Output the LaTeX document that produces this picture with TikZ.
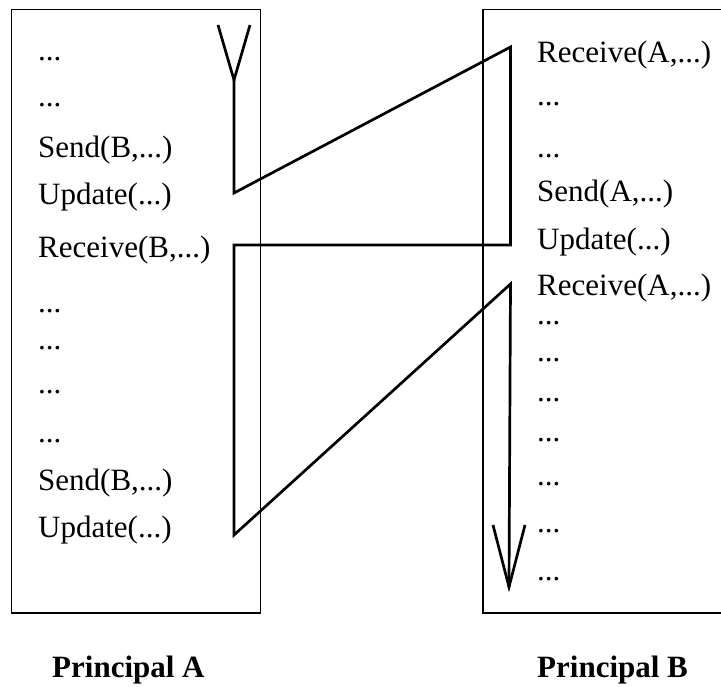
\documentclass[tikz,border=0pt]{standalone}
\usepackage{fontspec}
\setmainfont{Liberation Serif}
\begin{document}
\begin{tikzpicture}[x=1pt,y=-1pt,
  txt/.style={anchor=base west,inner sep=0pt,font=\fontsize{31}{36}\selectfont},
  lbl/.style={anchor=base west,inner sep=0pt,font=\fontsize{31}{36}\selectfont\bfseries},
  frame/.style={line width=1.3pt},
  flow/.style={line width=2.7pt,line join=miter}]
\useasboundingbox (0,0) rectangle (721,687);

% principal boxes (the right one runs off the edge)
\draw[frame] (11.5,9.5) rectangle (260.5,613);
\draw[frame] (721,9.5) -- (483,9.5) -- (483,613) -- (721,613);

% Principal A steps
\node[txt] (a1)  at (38,61)  {...};
\node[txt] (a2)  at (38,107) {...};
\node[txt] (a3)  at (38,158) {Send(B,...)};
\node[txt] (a4)  at (38,205) {Update(...)};
\node[txt] (a5)  at (38,258) {Receive(B,...)};
\node[txt] (a6)  at (38,313) {...};
\node[txt] (a7)  at (38,350) {...};
\node[txt] (a8)  at (38,393) {...};
\node[txt] (a9)  at (38,442) {...};
\node[txt] (a10) at (38,490) {Send(B,...)};
\node[txt] (a11) at (38,537) {Update(...)};

% Principal B steps
\node[txt] (b1)  at (537,63)  {Receive(A,...)};
\node[txt] (b2)  at (537,106) {...};
\node[txt] (b3)  at (537,158) {...};
\node[txt] (b4)  at (537,202) {Send(A,...)};
\node[txt] (b5)  at (537,250) {Update(...)};
\node[txt] (b6)  at (537,296) {Receive(A,...)};
\node[txt] (b7)  at (537,325) {...};
\node[txt] (b8)  at (537,362) {...};
\node[txt] (b9)  at (537,402) {...};
\node[txt] (b10) at (537,441) {...};
\node[txt] (b11) at (537,485) {...};
\node[txt] (b12) at (537,532) {...};
\node[txt] (b13) at (537,580) {...};

% captions
\node[lbl] (capA) at (52,677) {Principal A};
\node[lbl] (capB) at (537,677) {Principal B};

% control flow between the two principals
\coordinate (tailL) at (218,25);
\coordinate (tailR) at (250,25);
\coordinate (start) at (234,80);
\coordinate (p1) at (234,193);
\coordinate (p2) at (510.5,47);
\coordinate (p3) at (510.5,245);
\coordinate (p4) at (234,245);
\coordinate (p5) at (234,535);
\coordinate (p6) at (510.5,284);
\coordinate (tip) at (509,587);
\coordinate (headL) at (493,525);
\coordinate (headR) at (525,525);

\draw[flow] (tailL) -- (start) -- (tailR);
\draw[flow] (start) -- (p1) -- (p2) -- (p3) -- (p4) -- (p5) -- (p6) -- (tip);
\draw[flow] (headL) -- (tip) -- (headR);
\end{tikzpicture}
\end{document}
